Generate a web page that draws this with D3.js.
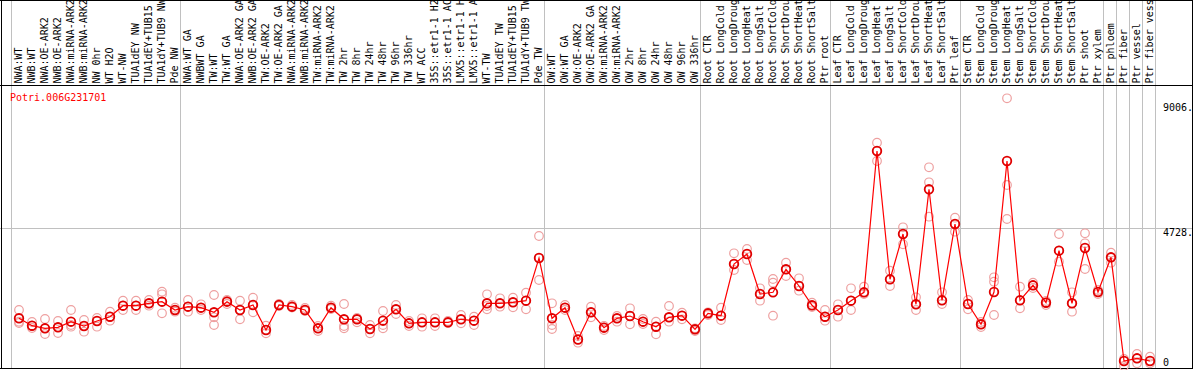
<!DOCTYPE html>
<html>
<head>
<meta charset="utf-8">
<script src="https://cdn.jsdelivr.net/npm/d3@7"></script>
<style>
body { margin: 0; background: #fff; }
svg { display: block; font-family: "DejaVu Sans Mono", monospace; font-size: 10px; }
</style>
</head>
<body>
<div id="chart"></div>
<script>
// Expression profile of one gene across the sample panel
const width = 1194;
const height = 370;

const geneId = "Potri.006G231701";

const labels = [
    "NWA:WT", "NWB:WT", "NWA:OE-ARK2", "NWB:OE-ARK2", "NWA:miRNA-ARK2", "NWB:miRNA-ARK2", "NW 0hr", "WT H2O", "WT-NW",
    "TUA1dEY NW", "TUA1dEY+TUB15", "TUA1dY+TUB9 NW", "Pde NW",
    "NWA:WT GA", "NWBWT GA", "TW:WT", "TW:WT GA", "NWA:OE-ARK2 GA", "NWB:OE-ARK2 GA", "TW:OE-ARK2", "TW:OE-ARK2 GA",
    "NWA:miRNA-ARK2", "NWB:miRNA-ARK2", "TW:miRNA-ARK2", "TW:miRNA-ARK2", "TW 2hr", "TW 8hr", "TW 24hr", "TW 48hr",
    "TW 96hr", "TW 336hr", "WT ACC", "35S::etr1-1 H2O", "35S::etr1-1 ACC", "LMX5::etr1-1 H2O", "LMX5::etr1-1 ACC",
    "WT-TW", "TUA1dEY TW", "TUA1dEY+TUB15", "TUA1dY+TUB9 TW", "Pde TW",
    "OW:WT", "OW:WT GA", "OW:OE-ARK2", "OW:OE-ARK2 GA", "OW:miRNA-ARK2", "OW:miRNA-ARK2", "OW 2hr", "OW 8hr",
    "OW 24hr", "OW 48hr", "OW 96hr", "OW 336hr",
    "Root CTR", "Root LongCold", "Root LongDrought", "Root LongHeat", "Root LongSalt", "Root ShortCold",
    "Root ShortDrought", "Root ShortHeat", "Root ShortSalt", "Ptr root",
    "Leaf CTR", "Leaf LongCold", "Leaf LongDrought", "Leaf LongHeat", "Leaf LongSalt", "Leaf ShortCold",
    "Leaf ShortDrought", "Leaf ShortHeat", "Leaf ShortSalt", "Ptr leaf",
    "Stem CTR", "Stem LongCold", "Stem LongDrought", "Stem LongHeat", "Stem LongSalt", "Stem ShortCold",
    "Stem ShortDrought", "Stem ShortHeat", "Stem ShortSalt", "Ptr shoot", "Ptr xylem",
    "Ptr phloem", "Ptr fiber", "Ptr vessel", "Ptr fiber vessel"
];

// first sample index of every block (last entry closes the panel)
const sectionStarts = [0, 13, 41, 53, 63, 73, 84, 85, 86, 87, 88];

const means = [
    1656, 1403, 1314, 1349, 1540, 1393, 1564, 1710, 2086, 2086, 2168, 2223, 1939,
    2052, 2018, 1861, 2223, 1939, 2110, 1256, 2110, 2052, 1939, 1314, 2018, 1622, 1622, 1290, 1574,
    1963, 1485, 1519, 1519, 1519, 1622, 1574, 2168, 2168, 2202, 2257, 3714,
    1656, 2018, 932, 1861, 1335, 1656, 1734, 1540, 1369, 1690, 1745, 1280,
    1826, 1745, 3510, 3851, 2485, 2543, 3329, 2759, 2100, 1710,
    1939, 2257, 2543, 7367, 2987, 4534, 2134, 6060, 2270, 4875,
    2144, 1451, 2554, 7026, 2270, 2782, 2188, 3964, 2168, 4056, 2554,
    3738, 198, 290, 198
];

const replicates = [
    [1939, 1540, 1495], [1529, 1325, 1403], [1632, 1120, 1314], [1564, 1154, 1349], [1939, 1427, 1369],
    [1598, 1198, 1393], [1666, 1369, 1564], [1881, 1574, 1710], [2257, 1939, 2086], [2257, 1939, 2086],
    [2281, 2086, 2168], [2564, 2475, 1826], [2018, 1881, 1939],
    [2281, 1881, 2052], [2134, 1939, 2018], [2451, 1690, 1427], [2144, 2246, 2281], [2257, 1622, 1939],
    [2359, 1861, 2110], [1403, 1144, 1256], [2144, 2110, 2076], [2110, 2024, 2052], [2007, 1905, 1939],
    [1393, 1222, 1314], [2086, 2018, 1973], [2144, 1393, 1314], [1519, 1666, 1622], [1427, 1144, 1290],
    [1905, 1427, 1314], [2110, 1803, 1963], [1393, 1564, 1485], [1656, 1369, 1519], [1656, 1393, 1519],
    [1564, 1495, 1519], [1768, 1485, 1622], [1710, 1427, 1574], [2475, 1963, 2076], [2339, 2052, 2168],
    [2359, 2031, 2202], [2530, 1963, 2257], [4466, 2963, 3714],
    [2168, 1427, 1290], [2110, 2018, 1939], [1052, 823, 932], [2052, 1690, 1861], [1256, 1335, 1393],
    [1734, 1540, 1656], [1997, 1451, 1734], [1632, 1461, 1540], [1540, 1110, 1369], [2076, 1540, 1690],
    [1847, 1622, 1745], [1314, 1222, 1280],
    [1861, 1826, 1768], [2018, 1598, 1745], [3875, 3305, 3510], [4022, 3646, 3851], [2680, 2257, 2485],
    [2997, 2871, 1745], [3554, 3100, 3329], [3021, 2598, 2759], [2188, 2100, 2042], [1939, 1574, 1710],
    [2134, 1710, 1939], [2680, 1939, 2257], [2735, 2543, 2485], [7651, 7026, 7367], [3281, 2759, 2987],
    [4763, 4182, 4534], [2373, 1939, 2134], [6811, 6299, 5124], [2543, 2144, 2270], [5090, 4612, 4875],
    [2281, 1963, 2144], [1529, 1359, 1451], [3055, 2905, 1768], [9167, 6206, 5046], [2735, 1997, 2270],
    [2871, 2782, 2690], [2110, 2188, 2246], [4534, 3588, 3964], [2543, 1881, 2168], [4558, 4216, 3339],
    [2622, 2554, 2485],
    [3895, 3554, 3738], [27, 198, 266], [437, 119, 290], [345, 119, 198]
];

const yTicks = [9006, 4728, 0];
const yTickLabels = ["9006.", "4728.", "0"];
const gridValue = 4728;

const svg = d3.select("#chart")
    .append("svg")
    .attr("width", width)
    .attr("height", height);

const x = d3.scaleBand()
    .domain(d3.range(labels.length))
    .range([11, 1155]);

const y = d3.scaleLinear()
    .domain([0, 9006])
    .range([366.8, 103]);

const cx = i => x(i) + 8;
const sepX = s => (s < labels.length ? x(s) : x.range()[1]) + 0.5;

// grey grid: block separators and the mid line
svg.append("g")
    .selectAll("line")
    .data(sectionStarts)
    .enter()
    .append("line")
    .attr("x1", sepX).attr("x2", sepX)
    .attr("y1", 0).attr("y2", 368)
    .attr("stroke", "#c0c0c0");

svg.append("line")
    .attr("x1", 0).attr("x2", 1192)
    .attr("y1", Math.round(y(gridValue)) + 0.5)
    .attr("y2", Math.round(y(gridValue)) + 0.5)
    .attr("stroke", "#c0c0c0");

// black frame
const frame = svg.append("g").attr("stroke", "#000");
frame.append("line").attr("x1", 0).attr("x2", 1193).attr("y1", 0.5).attr("y2", 0.5);
frame.append("line").attr("x1", 0).attr("x2", 1193).attr("y1", 85.5).attr("y2", 85.5);
frame.append("line").attr("x1", 0).attr("x2", 1193).attr("y1", 368.5).attr("y2", 368.5);
frame.append("line").attr("x1", 1.5).attr("x2", 1.5).attr("y1", 0).attr("y2", 369);
frame.append("line").attr("x1", 1192.5).attr("x2", 1192.5).attr("y1", 0).attr("y2", 369);

// sample names, rotated
svg.append("g")
    .selectAll("text")
    .data(labels)
    .enter()
    .append("text")
    .attr("transform", (d, i) => `translate(${cx(i) + 3},83.5) rotate(-90)`)
    .attr("fill", "#000")
    .text(d => d);

// gene id
svg.append("text")
    .attr("x", 10)
    .attr("y", 101)
    .attr("fill", "#ff0000")
    .text(geneId);

// value labels on the right
svg.append("g")
    .selectAll("text")
    .data(yTicks)
    .enter()
    .append("text")
    .attr("x", 1163)
    .attr("y", d => Math.min(y(d), 358))
    .attr("dy", "0.75em")
    .attr("fill", "#000")
    .text((d, i) => yTickLabels[i]);

// replicate circles
const repPoints = [];
replicates.forEach((r, i) => r.forEach(v => repPoints.push({ i: i, v: v })));

svg.append("g")
    .selectAll("circle")
    .data(repPoints)
    .enter()
    .append("circle")
    .attr("cx", d => cx(d.i))
    .attr("cy", d => y(d.v))
    .attr("r", 4.3)
    .attr("fill", "none")
    .attr("stroke", "#eea0a0")
    .attr("stroke-width", 1.2);

// mean line
const line = d3.line()
    .x((d, i) => cx(i))
    .y(d => y(d));

svg.append("path")
    .datum(means)
    .attr("d", line)
    .attr("fill", "none")
    .attr("stroke", "#ff0000")
    .attr("stroke-width", 1.2);

// mean circles
svg.append("g")
    .selectAll("circle")
    .data(means)
    .enter()
    .append("circle")
    .attr("cx", (d, i) => cx(i))
    .attr("cy", d => y(d))
    .attr("r", 4.3)
    .attr("fill", "none")
    .attr("stroke", "#e00000")
    .attr("stroke-width", 1.8);
</script>
</body>
</html>
